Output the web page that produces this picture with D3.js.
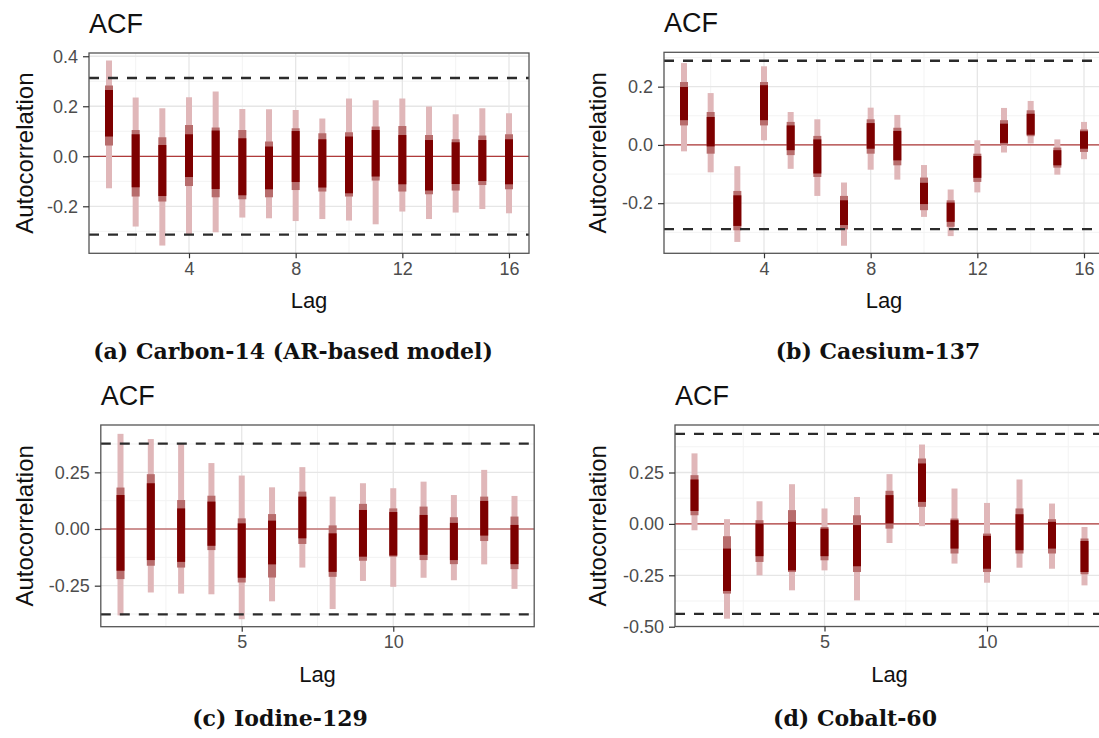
<!DOCTYPE html>
<html>
<head>
<meta charset="utf-8">
<script src="https://cdn.jsdelivr.net/npm/d3@7"></script>
<style>
  html, body { margin: 0; padding: 0; background: #ffffff; }
  svg { display: block; }
</style>
</head>
<body>
<svg id="chart" width="1099" height="738"></svg>
<script>
// ---------------- DATA ----------------
const lagsA = [1,2,3,4,5,6,7,8,9,10,11,12,13,14,15,16];
const lagsB = [1,2,3,4,5,6,7,8,9,10,11,12,13,14,15,16];
const lagsC = [1,2,3,4,5,6,7,8,9,10,11,12,13,14];
const lagsD = [1,2,3,4,5,6,7,8,9,10,11,12,13];

// Carbon-14 (AR-based model): [low, high] of outer / middle / inner intervals
const c14Outer = [[-0.128,0.383],[-0.281,0.235],[-0.357,0.192],[-0.312,0.236],[-0.304,0.259],[-0.245,0.189],[-0.248,0.188],[-0.259,0.185],[-0.251,0.151],[-0.257,0.231],[-0.272,0.224],[-0.221,0.231],[-0.251,0.199],[-0.225,0.168],[-0.211,0.192],[-0.228,0.172]];
const c14Mid   = [[0.043,0.283],[-0.161,0.105],[-0.181,0.076],[-0.119,0.125],[-0.164,0.115],[-0.172,0.105],[-0.164,0.059],[-0.135,0.112],[-0.141,0.092],[-0.161,0.096],[-0.097,0.119],[-0.141,0.121],[-0.152,0.085],[-0.137,0.068],[-0.115,0.083],[-0.132,0.088]];
const c14Inner = [[0.079,0.265],[-0.124,0.088],[-0.159,0.045],[-0.083,0.088],[-0.131,0.103],[-0.156,0.072],[-0.132,0.039],[-0.103,0.101],[-0.125,0.068],[-0.148,0.079],[-0.081,0.105],[-0.112,0.085],[-0.137,0.065],[-0.111,0.056],[-0.099,0.065],[-0.112,0.068]];

// Caesium-137
const cs137Outer = [[-0.022,0.281],[-0.094,0.178],[-0.333,-0.073],[0.016,0.270],[-0.082,0.113],[-0.175,0.088],[-0.346,-0.129],[-0.085,0.128],[-0.119,0.103],[-0.247,-0.069],[-0.313,-0.153],[-0.163,0.016],[-0.026,0.127],[0.005,0.151],[-0.102,0.019],[-0.049,0.079]];
const cs137Mid   = [[0.067,0.216],[-0.030,0.113],[-0.293,-0.158],[0.067,0.216],[-0.035,0.079],[-0.110,0.031],[-0.290,-0.175],[-0.030,0.088],[-0.070,0.059],[-0.224,-0.112],[-0.281,-0.190],[-0.127,-0.030],[-0.001,0.085],[0.030,0.119],[-0.078,-0.009],[-0.024,0.053]];
const cs137Inner = [[0.085,0.199],[-0.005,0.096],[-0.278,-0.173],[0.085,0.205],[-0.018,0.067],[-0.098,0.019],[-0.275,-0.190],[-0.013,0.075],[-0.053,0.048],[-0.203,-0.130],[-0.264,-0.198],[-0.113,-0.038],[0.007,0.073],[0.035,0.107],[-0.070,-0.018],[-0.013,0.047]];

// Iodine-129
const i129Outer = [[-0.381,0.420],[-0.280,0.397],[-0.285,0.379],[-0.288,0.291],[-0.398,0.236],[-0.319,0.184],[-0.170,0.273],[-0.353,0.143],[-0.229,0.202],[-0.255,0.180],[-0.215,0.209],[-0.226,0.150],[-0.156,0.261],[-0.264,0.146]];
const i129Mid   = [[-0.221,0.183],[-0.162,0.242],[-0.170,0.128],[-0.093,0.147],[-0.236,0.047],[-0.214,0.066],[-0.066,0.165],[-0.211,0.016],[-0.140,0.111],[-0.122,0.091],[-0.137,0.099],[-0.155,0.052],[-0.053,0.143],[-0.177,0.055]];
const i129Inner = [[-0.184,0.150],[-0.137,0.202],[-0.145,0.091],[-0.074,0.121],[-0.215,0.025],[-0.156,0.037],[-0.041,0.143],[-0.189,-0.019],[-0.122,0.084],[-0.117,0.075],[-0.114,0.062],[-0.137,0.027],[-0.029,0.124],[-0.155,0.018]];

// Cobalt-60
const co60Outer = [[-0.031,0.343],[-0.461,0.023],[-0.250,0.110],[-0.323,0.193],[-0.226,0.075],[-0.372,0.131],[-0.093,0.242],[-0.011,0.386],[-0.193,0.172],[-0.286,0.102],[-0.213,0.216],[-0.218,0.099],[-0.299,-0.015]];
const co60Mid   = [[0.042,0.237],[-0.339,-0.060],[-0.185,0.018],[-0.234,0.067],[-0.177,-0.015],[-0.234,0.042],[-0.023,0.161],[0.083,0.318],[-0.144,0.026],[-0.234,-0.047],[-0.144,0.075],[-0.144,0.023],[-0.245,-0.071]];
const co60Inner = [[0.063,0.216],[-0.326,-0.120],[-0.157,0.002],[-0.226,0.010],[-0.157,-0.023],[-0.206,-0.006],[0.002,0.140],[0.107,0.294],[-0.120,0.018],[-0.218,-0.058],[-0.128,0.047],[-0.120,0.010],[-0.234,-0.083]];

// significance bounds (dashed lines)
const boundA = 0.313, boundB = 0.289, boundC = 0.377, boundD = 0.438;

// tick values and labels
const xTicksAB = [4, 8, 12, 16];
const xTicksCD = [5, 10];
const yTicksA = [-0.2, 0, 0.2, 0.4];   const yLabelsA = ["-0.2","0.0","0.2","0.4"];
const yTicksB = [-0.2, 0, 0.2];        const yLabelsB = ["-0.2","0.0","0.2"];
const yTicksC = [-0.25, 0, 0.25];      const yLabelsC = ["-0.25","0.00","0.25"];
const yTicksD = [-0.5, -0.25, 0, 0.25]; const yLabelsD = ["-0.50","-0.25","0.00","0.25"];

const captions = ["(a) Carbon-14 (AR-based model)", "(b) Caesium-137", "(c) Iodine-129", "(d) Cobalt-60"];
</script>
<script>
// ---------------- DRAWING ----------------
const svg = d3.select("#chart");
const SANS = "'Liberation Sans', Arial, Helvetica, sans-serif";
const SERIF = "'DejaVu Serif', serif";
const COL_OUT = "#e0b7b9", COL_MID = "#b76c6c", COL_IN = "#7d0000";

function panel(cfg) {
  const { left, right, top, bottom, xDomain, yDomain, lags, outer, mid, inner,
          bound, xTicks, xMinor, yTicks, yLabels, yMinor, titleX, caption, capX, capY } = cfg;
  const x = d3.scaleLinear().domain(xDomain).range([left, right]);
  const y = d3.scaleLinear().domain(yDomain).range([bottom, top]);
  const g = svg.append("g");

  // minor grid
  g.selectAll(".gxm").data(xMinor).join("line")
    .attr("x1", d => x(d)).attr("x2", d => x(d)).attr("y1", top).attr("y2", bottom)
    .attr("stroke", "#f3f3f3").attr("stroke-width", 1);
  g.selectAll(".gym").data(yMinor).join("line")
    .attr("y1", d => y(d)).attr("y2", d => y(d)).attr("x1", left).attr("x2", right)
    .attr("stroke", "#f3f3f3").attr("stroke-width", 1);
  // major grid
  g.selectAll(".gx").data(xTicks).join("line")
    .attr("x1", d => x(d)).attr("x2", d => x(d)).attr("y1", top).attr("y2", bottom)
    .attr("stroke", "#e6e6e6").attr("stroke-width", 1.3);
  g.selectAll(".gy").data(yTicks).join("line")
    .attr("y1", d => y(d)).attr("y2", d => y(d)).attr("x1", left).attr("x2", right)
    .attr("stroke", "#e6e6e6").attr("stroke-width", 1.3);

  // zero line
  g.append("line").attr("x1", left).attr("x2", right).attr("y1", y(0)).attr("y2", y(0))
    .attr("stroke", "#b03a3a").attr("stroke-width", 1.2);

  // intervals
  const layers = [[outer, COL_OUT, 6], [mid, COL_MID, 8], [inner, COL_IN, 8]];
  layers.forEach(([arr, col, w]) => {
    g.append("g").selectAll("rect").data(arr.map((d, i) => ({ lag: lags[i], lo: d[0], hi: d[1] })))
      .join("rect")
      .attr("x", d => x(d.lag) - w / 2).attr("width", w)
      .attr("y", d => y(d.hi)).attr("height", d => y(d.lo) - y(d.hi))
      .attr("fill", col);
  });

  // dashed bounds
  g.selectAll(".bd").data([bound, -bound]).join("line")
    .attr("x1", left).attr("x2", right).attr("y1", d => y(d)).attr("y2", d => y(d))
    .attr("stroke", "#2b2b2b").attr("stroke-width", 2.3).attr("stroke-dasharray", "10,9");

  // border
  g.append("rect").attr("x", left).attr("y", top).attr("width", right - left).attr("height", bottom - top)
    .attr("fill", "none").attr("stroke", "#555555").attr("stroke-width", 1.3);

  // axes
  const ax = g.append("g").attr("transform", `translate(0,${bottom})`)
    .call(d3.axisBottom(x).tickValues(xTicks).tickFormat(d3.format("d")).tickSize(5).tickPadding(4));
  const ay = g.append("g").attr("transform", `translate(${left},0)`)
    .call(d3.axisLeft(y).tickValues(yTicks).tickFormat((d, i) => yLabels[i]).tickSize(6).tickPadding(5));
  [ax, ay].forEach(a => {
    a.select(".domain").remove();
    a.selectAll(".tick line").attr("stroke", "#333333").attr("stroke-width", 1.2);
    a.selectAll(".tick text").attr("fill", "#4d4d4d").attr("font-family", SANS).attr("font-size", 18);
  });

  // titles
  g.append("text").attr("x", left).attr("y", top - 20).text("ACF")
    .attr("font-family", SANS).attr("font-size", 27).attr("fill", "#111");
  g.append("text").attr("x", (left + right) / 2).attr("y", bottom + 55).text("Lag")
    .attr("text-anchor", "middle").attr("font-family", SANS).attr("font-size", 22).attr("fill", "#111");
  g.append("text").attr("transform", `translate(${titleX},${(top + bottom) / 2}) rotate(-90)`)
    .text("Autocorrelation").attr("text-anchor", "middle")
    .attr("font-family", SANS).attr("font-size", 24).attr("fill", "#111");

  // caption
  svg.append("text").attr("x", capX).attr("y", capY).text(caption)
    .attr("text-anchor", "middle").attr("font-family", SERIF).attr("font-weight", "bold")
    .attr("font-size", 22).attr("fill", "#111");
}

panel({ left: 89, right: 529, top: 53, bottom: 253.3, xDomain: [0.25, 16.75], yDomain: [-0.388, 0.413],
  lags: lagsA, outer: c14Outer, mid: c14Mid, inner: c14Inner, bound: boundA,
  xTicks: xTicksAB, xMinor: [2, 6, 10, 14], yTicks: yTicksA, yLabels: yLabelsA, yMinor: [-0.3, -0.1, 0.1, 0.3],
  titleX: 33, caption: captions[0], capX: 293, capY: 359 });

panel({ left: 664, right: 1104, top: 52.3, bottom: 253.3, xDomain: [0.25, 16.75], yDomain: [-0.372, 0.318],
  lags: lagsB, outer: cs137Outer, mid: cs137Mid, inner: cs137Inner, bound: boundB,
  xTicks: xTicksAB, xMinor: [2, 6, 10, 14], yTicks: yTicksB, yLabels: yLabelsB, yMinor: [-0.3, -0.1, 0.1, 0.3],
  titleX: 606, caption: captions[1], capX: 878, capY: 359 });

panel({ left: 100.8, right: 534.2, top: 425, bottom: 626.7, xDomain: [0.35, 14.65], yDomain: [-0.431, 0.459],
  lags: lagsC, outer: i129Outer, mid: i129Mid, inner: i129Inner, bound: boundC,
  xTicks: xTicksCD, xMinor: [2.5, 7.5, 12.5], yTicks: yTicksC, yLabels: yLabelsC, yMinor: [-0.375, -0.125, 0.125, 0.375],
  titleX: 33, caption: captions[2], capX: 280, capY: 726 });

panel({ left: 675, right: 1104, top: 425, bottom: 626.5, xDomain: [0.4, 13.6], yDomain: [-0.499, 0.481],
  lags: lagsD, outer: co60Outer, mid: co60Mid, inner: co60Inner, bound: boundD,
  xTicks: xTicksCD, xMinor: [2.5, 7.5, 12.5], yTicks: yTicksD, yLabels: yLabelsD, yMinor: [-0.375, -0.125, 0.125, 0.375],
  titleX: 606, caption: captions[3], capX: 855, capY: 726 });
</script>
</body>
</html>
